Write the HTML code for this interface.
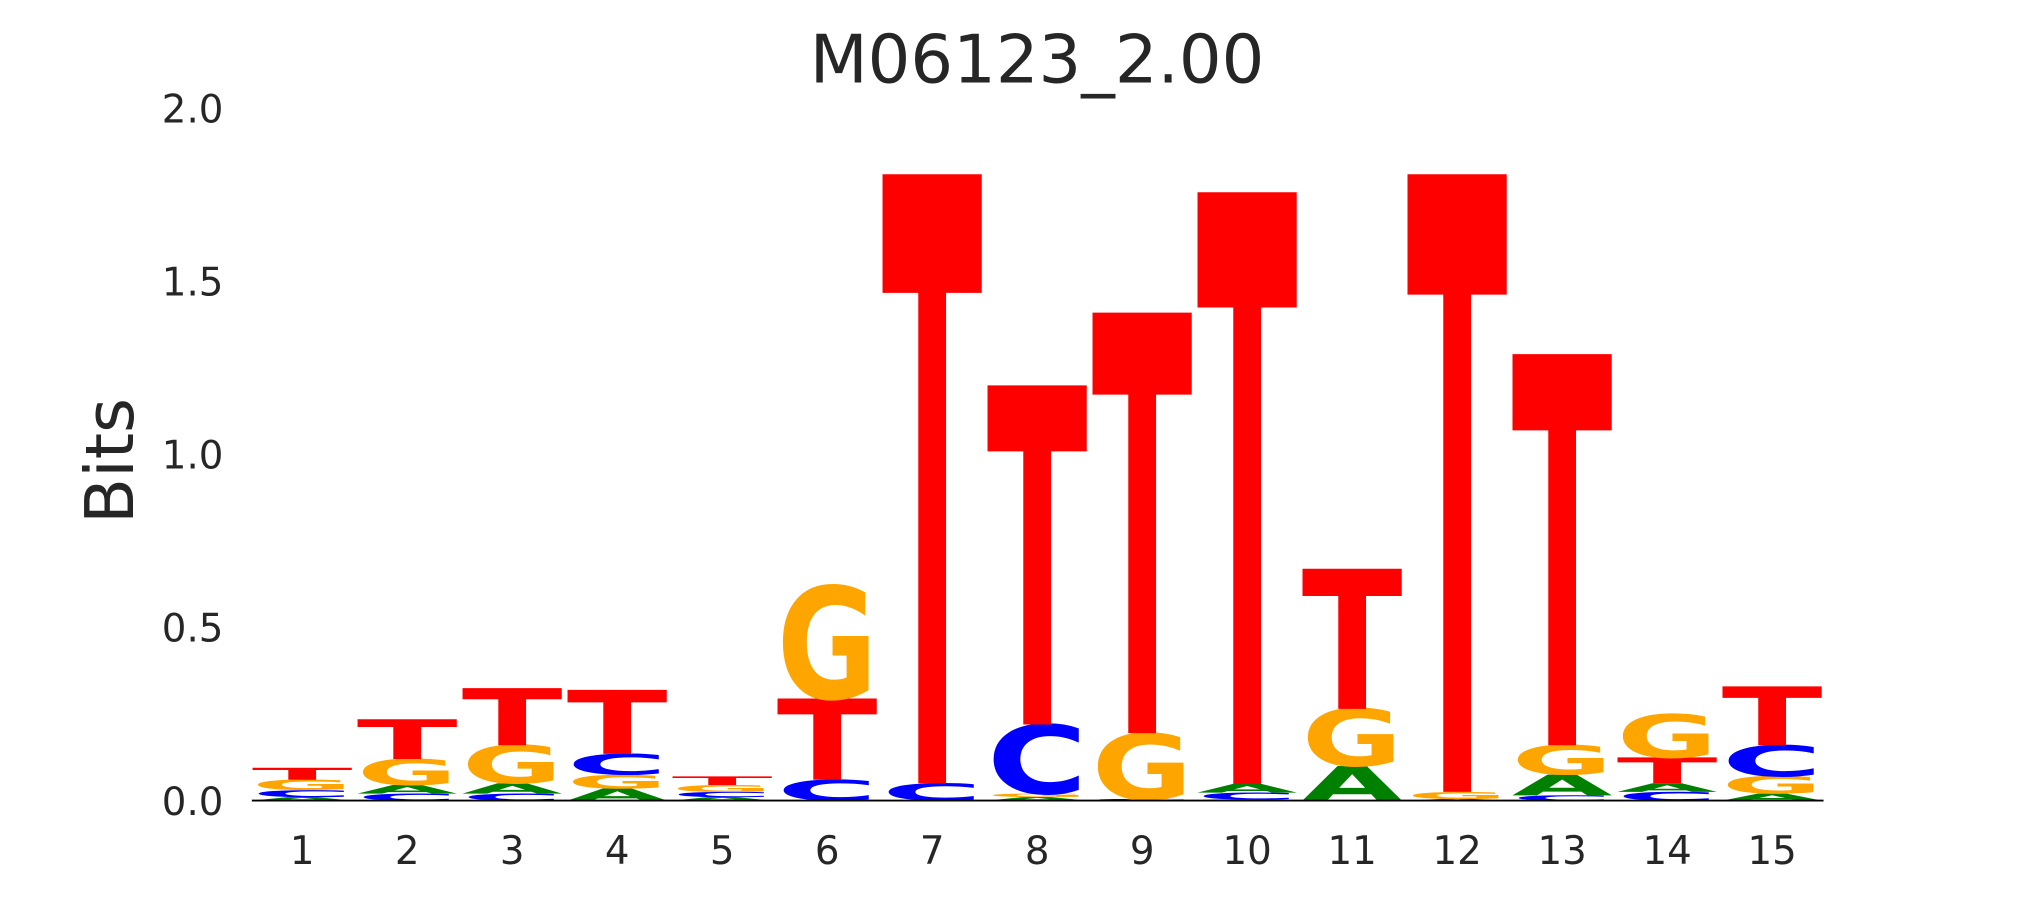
<!DOCTYPE html>
<html><head><meta charset="utf-8"><style>
html,body{margin:0;padding:0;background:#fff;width:2025px;height:900px;overflow:hidden;}
svg{display:block;}
text{font-family:"DejaVu Sans","Liberation Sans",sans-serif;}
</style></head><body>
<svg id="chart" width="2025" height="900" viewBox="0 0 1568 697" preserveAspectRatio="none" xmlns="http://www.w3.org/2000/svg">
<rect width="1568" height="697" fill="#fff"/>
<text x="803" y="64" font-size="52" text-anchor="middle" fill="#262626">M06123_2.00</text>
<text transform="translate(103,357) rotate(-90)" font-size="52" text-anchor="middle" fill="#262626">Bits</text>
<g id="yticks"></g><g id="xticks"></g><g id="letters"></g>
<line x1="195" x2="1412" y1="620" y2="620" stroke="#000" stroke-width="1.5"/>
</svg>
<script>
const positions = [1,2,3,4,5,6,7,8,9,10,11,12,13,14,15];
const yTicks = [0.0,0.5,1.0,1.5,2.0];
// stacks bottom->top: [letter, bits]
const pos1 = [["A",0.01],["C",0.02],["G",0.03],["T",0.035]];
const pos2 = [["C",0.02],["A",0.025],["G",0.075],["T",0.115]];
const pos3 = [["C",0.02],["A",0.03],["G",0.11],["T",0.165]];
const pos4 = [["A",0.035],["G",0.04],["C",0.06],["T",0.185]];
const pos5 = [["A",0.01],["C",0.015],["G",0.02],["T",0.025]];
const pos6 = [["C",0.06],["T",0.235],["G",0.325]];
const pos7 = [["C",0.05],["T",1.76]];
const pos8 = [["A",0.01],["G",0.01],["C",0.2],["T",0.98]];
const pos9 = [["C",0.005],["G",0.19],["T",1.215]];
const pos10 = [["G",0.003],["C",0.02],["A",0.025],["T",1.71]];
const pos11 = [["A",0.1],["G",0.165],["T",0.405]];
const pos12 = [["A",0.005],["G",0.02],["T",1.785]];
const pos13 = [["C",0.015],["A",0.06],["G",0.085],["T",1.13]];
const pos14 = [["C",0.025],["A",0.025],["T",0.075],["G",0.125]];
const pos15 = [["A",0.02],["G",0.05],["C",0.09],["T",0.17]];
const stacks = [pos1,pos2,pos3,pos4,pos5,pos6,pos7,pos8,pos9,pos10,pos11,pos12,pos13,pos14,pos15];
const colors = {A:"#008000",C:"#0000ff",G:"#ffa500",T:"#ff0000"};
const NS="http://www.w3.org/2000/svg";
const y0=620, pxPerBit=268;
function yScale(v){return y0 - v*pxPerBit;}
function xScale(p){return 234 + (p-1)*81.3;}
const letterW=78;
const yt=document.getElementById('yticks');
yTicks.forEach(v=>{
  const t=document.createElementNS(NS,'text');
  
  
  t.setAttribute('x',173);t.setAttribute('y',yScale(v)+11);
  t.setAttribute('font-size','30');t.setAttribute('text-anchor','end');t.setAttribute('fill','#262626');
  t.textContent=v.toFixed(1);yt.appendChild(t);
});
const xt=document.getElementById('xticks');
positions.forEach(p=>{
  const t=document.createElementNS(NS,'text');
  
  
  t.setAttribute('x',xScale(p));t.setAttribute('y',669);
  t.setAttribute('font-size','30');t.setAttribute('text-anchor','middle');t.setAttribute('fill','#262626');
  t.textContent=String(p);xt.appendChild(t);
});
const lg=document.getElementById('letters');
const FS=100, CAP=72.9;
stacks.forEach((st,i)=>{
  const cx=xScale(positions[i]);
  let acc=0;
  st.forEach(([L,h])=>{
    const base=yScale(acc); acc+=h;
    const hp=h*pxPerBit;
    if(hp<=0)return;
    const t=document.createElementNS(NS,'text');
    
    
    t.setAttribute('x',0);t.setAttribute('y',0);
    t.setAttribute('font-size',FS);t.setAttribute('font-weight','bold');
    t.setAttribute('fill',colors[L]);
    t.setAttribute('textLength',letterW);
    t.setAttribute('lengthAdjust','spacingAndGlyphs');
    t.setAttribute('transform','translate('+(cx-letterW/2)+','+base+') scale(1,'+(hp/CAP)+')');
    t.textContent=L;lg.appendChild(t);
  });
});
</script>
</body></html>
